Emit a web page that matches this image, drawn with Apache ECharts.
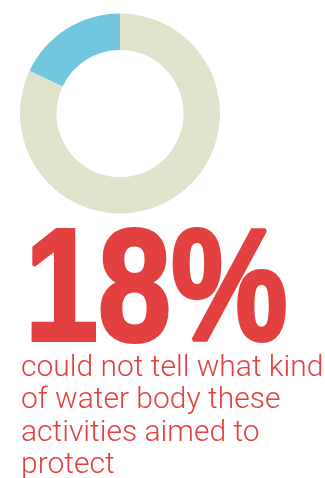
<!DOCTYPE html>
<html>
<head>
<meta charset="utf-8">
<script src="https://cdn.jsdelivr.net/npm/echarts@6/dist/echarts.min.js"></script>
<style>
  html, body { margin: 0; padding: 0; background: #fff; }
  #chart { width: 325px; height: 478px; }
</style>
</head>
<body>
<div id="chart"></div>
<script>
// share of respondents
const categories = ['could not tell', 'could tell'];
const values = [18, 82];
const sliceColors = ['#72c7e0', '#e0e3cb'];
const caption = ['could not tell what kind', 'of water body these', 'activities aimed to', 'protect'];

const chart = echarts.init(document.getElementById('chart'));

const option = {
  animation: false,
  series: [
    {
      type: 'pie',
      center: [120, 113.5],
      radius: [63.5, 100],
      startAngle: 90,
      clockwise: false,
      silent: true,
      label: { show: false },
      labelLine: { show: false },
      data: categories.map((name, i) => ({
        name: name,
        value: values[i],
        itemStyle: { color: sliceColors[i] },
      })),
    },
  ],
  graphic: [
    {
      type: 'text',
      x: 25,
      y: 217,
      scaleX: 0.825,
      style: {
        text: values[0] + '%',
        font: 'bold 159px "Liberation Sans", Arial, sans-serif',
        verticalAlign: 'top',
        fill: '#e2413f',
        stroke: '#e2413f',
        lineWidth: 4,
      },
    },
    {
      type: 'text',
      x: 21,
      y: 352,
      style: {
        text: caption.join('\n'),
        font: '300 30px Roboto, "Open Sans", sans-serif',
        verticalAlign: 'top',
        lineHeight: 32.5,
        fill: '#e2413f',
      },
    },
  ],
};

chart.setOption(option);
</script>
</body>
</html>
